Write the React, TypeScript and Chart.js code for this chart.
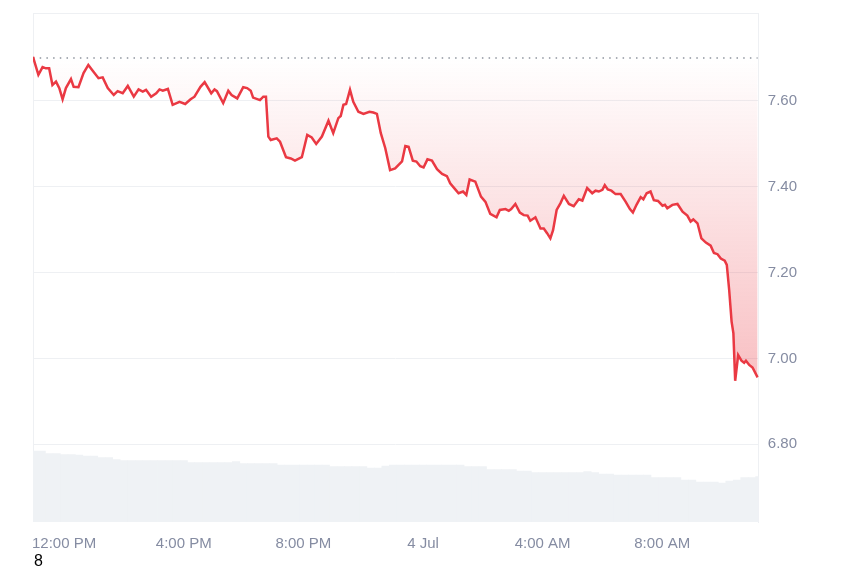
import { useEffect, useRef } from 'react';
import { Chart, registerables } from 'chart.js';

Chart.register(...registerables);

// Time in hours since 3 Jul 00:00
const TIMES = [
  10.96, 11.14, 11.28, 11.39, 11.50, 11.61, 11.73, 11.84, 11.95, 12.06,
  12.23, 12.32, 12.48, 12.65, 12.81, 12.95, 13.15, 13.29, 13.46, 13.66,
  13.79, 13.96, 14.13, 14.33, 14.49, 14.63, 14.74, 14.91, 15.08, 15.19,
  15.30, 15.47, 15.63, 15.86, 16.05, 16.23, 16.36, 16.56, 16.70, 16.92,
  17.03, 17.11, 17.32, 17.49, 17.60, 17.79, 17.99, 18.12, 18.24, 18.32,
  18.55, 18.66, 18.75, 18.83, 18.91, 19.11, 19.22, 19.42, 19.58, 19.72,
  19.95, 20.13, 20.28, 20.43, 20.62, 20.84, 21.00, 21.17, 21.25, 21.34,
  21.43, 21.56, 21.67, 21.84, 22.01, 22.21, 22.34, 22.46, 22.59, 22.74,
  22.90, 23.07, 23.30, 23.41, 23.52, 23.66, 23.78, 23.91, 24.02, 24.15,
  24.30, 24.47, 24.64, 24.80, 24.91, 25.08, 25.19, 25.34, 25.45, 25.56,
  25.75, 25.94, 26.09, 26.25, 26.46, 26.57, 26.76, 26.87, 26.95, 27.09,
  27.24, 27.37, 27.50, 27.59, 27.76, 27.93, 28.04, 28.15, 28.26, 28.35,
  28.47, 28.60, 28.71, 28.88, 29.04, 29.21, 29.33, 29.49, 29.66, 29.77,
  29.88, 30.00, 30.08, 30.18, 30.30, 30.44, 30.61, 30.78, 30.92, 31.02,
  31.14, 31.28, 31.37, 31.48, 31.61, 31.72, 31.86, 32.01, 32.09, 32.17,
  32.34, 32.51, 32.68, 32.84, 32.95, 33.04, 33.18, 33.31, 33.46, 33.62,
  33.73, 33.85, 33.96, 34.09, 34.16, 34.24, 34.32, 34.38, 34.44, 34.54,
  34.65, 34.74, 34.80, 34.91, 35.02, 35.19,
];

const PRICES = [
  7.703, 7.661, 7.679, 7.676, 7.676, 7.637, 7.645, 7.630, 7.604, 7.630,
  7.651, 7.633, 7.632, 7.665, 7.684, 7.671, 7.653, 7.655, 7.630, 7.614,
  7.623, 7.618, 7.635, 7.610, 7.627, 7.622, 7.626, 7.610, 7.618, 7.627,
  7.624, 7.628, 7.591, 7.598, 7.593, 7.604, 7.610, 7.633, 7.644, 7.618,
  7.627, 7.623, 7.595, 7.624, 7.614, 7.606, 7.632, 7.630, 7.624, 7.608,
  7.602, 7.610, 7.610, 7.517, 7.509, 7.513, 7.505, 7.469, 7.466, 7.461,
  7.469, 7.521, 7.515, 7.500, 7.517, 7.554, 7.525, 7.560, 7.565, 7.591,
  7.593, 7.626, 7.598, 7.575, 7.570, 7.575, 7.573, 7.570, 7.525, 7.490,
  7.439, 7.443, 7.459, 7.495, 7.493, 7.461, 7.459, 7.448, 7.445, 7.464,
  7.461, 7.441, 7.430, 7.425, 7.408, 7.394, 7.385, 7.389, 7.381, 7.417,
  7.412, 7.377, 7.365, 7.337, 7.329, 7.346, 7.348, 7.344, 7.348, 7.360,
  7.340, 7.334, 7.333, 7.321, 7.329, 7.303, 7.303, 7.292, 7.280, 7.299,
  7.346, 7.362, 7.379, 7.360, 7.355, 7.371, 7.368, 7.397, 7.385, 7.391,
  7.389, 7.393, 7.404, 7.394, 7.391, 7.383, 7.383, 7.365, 7.348, 7.340,
  7.358, 7.376, 7.371, 7.385, 7.389, 7.369, 7.367, 7.356, 7.358, 7.350,
  7.358, 7.360, 7.342, 7.333, 7.319, 7.324, 7.315, 7.280, 7.270, 7.263,
  7.246, 7.243, 7.233, 7.228, 7.218, 7.159, 7.086, 7.059, 6.948, 7.008,
  6.995, 6.990, 6.995, 6.985, 6.979, 6.956,
];

const BASELINE = 7.70;

// Volume bars: one bar per 15 minutes starting at 11:00
const VOLUME_START = 11.0;
const VOLUME_STEP = 0.25;
const VOLUMES = [
  142, 142, 137, 137, 135, 135, 134, 132, 132, 129,
  129, 125, 123, 123, 123, 123, 123, 123, 123, 123,
  123, 119, 119, 119, 119, 119, 119, 121, 117, 117,
  117, 117, 117, 114, 114, 114, 114, 114, 114, 114,
  111, 111, 111, 111, 111, 108, 108, 112, 114, 114,
  114, 114, 114, 114, 114, 114, 114, 114, 111, 111,
  111, 105, 105, 105, 105, 102, 102, 99, 99, 99,
  99, 99, 99, 99, 101, 99, 96, 96, 94, 94,
  94, 94, 94, 89, 89, 89, 89, 84, 84, 80,
  80, 80, 78, 82, 84, 89, 89, 91,
];
const VOLUME_AXIS_MAX = 1018;

const Y_MIN = 6.619;
const Y_MAX = 7.805;
const Y_TICKS = [6.8, 7.0, 7.2, 7.4, 7.6];
const X_TICKS = [12, 16, 20, 24, 28, 32];
const X_TICK_LABELS = ['12:00 PM', '4:00 PM', '8:00 PM', '4 Jul', '4:00 AM', '8:00 AM'];
const X_MAX = 35.23;

const GRID = '#eef0f3';
const LABEL = '#858ca2';
const RED = '#ea3943';
const FONT = "'Liberation Sans', Arial, sans-serif";

const framePlugin = {
  id: 'frame',
  beforeDatasetsDraw(chart: any) {
    const { ctx, chartArea } = chart;
    ctx.save();
    ctx.strokeStyle = GRID;
    ctx.lineWidth = 1;
    ctx.beginPath();
    ctx.moveTo(chartArea.left + 0.5, chartArea.top);
    ctx.lineTo(chartArea.left + 0.5, chartArea.bottom);
    ctx.moveTo(chartArea.left, chartArea.top + 0.5);
    ctx.lineTo(chartArea.right, chartArea.top + 0.5);
    ctx.stroke();
    ctx.restore();
  },
};

export default function App() {
  const ref = useRef<HTMLCanvasElement | null>(null);

  useEffect(() => {
    if (!ref.current) return;
    const minPrice = Math.min(...PRICES);
    const chart = new Chart(ref.current, {
      type: 'line',
      data: {
        datasets: [
          {
            type: 'line',
            label: 'Price',
            data: TIMES.map((t, i) => ({ x: t, y: PRICES[i] })),
            borderColor: RED,
            borderWidth: 2.5,
            pointRadius: 0,
            tension: 0,
            yAxisID: 'y',
            order: 1,
            fill: { value: BASELINE },
            backgroundColor: (c: any) => {
              const ch = c.chart;
              const { chartArea, scales } = ch;
              if (!chartArea || !scales.y) return 'rgba(0,0,0,0)';
              const top = scales.y.getPixelForValue(BASELINE);
              const bottom = scales.y.getPixelForValue(minPrice);
              const g = ch.ctx.createLinearGradient(0, top, 0, bottom);
              g.addColorStop(0, 'rgba(234,57,67,0)');
              g.addColorStop(1, 'rgba(234,57,67,0.32)');
              return g;
            },
          } as any,
          {
            type: 'line',
            label: 'Open',
            data: [
              { x: TIMES[0], y: BASELINE },
              { x: TIMES[TIMES.length - 1], y: BASELINE },
            ],
            borderColor: '#8e949e',
            borderWidth: 1.5,
            borderDash: [1.5, 5.2],
            pointRadius: 0,
            fill: false,
            yAxisID: 'y',
            order: 2,
          } as any,
          {
            type: 'bar',
            label: 'Volume',
            data: VOLUMES.map((v, i) => ({ x: VOLUME_START + i * VOLUME_STEP, y: v })),
            backgroundColor: '#eff2f5',
            borderWidth: 0,
            barPercentage: 1,
            categoryPercentage: 1,
            yAxisID: 'yVol',
            order: 3,
          } as any,
        ],
      },
      options: {
        animation: false,
        responsive: false,
        devicePixelRatio: 1,
        layout: { padding: { left: 33, top: 13, right: 44, bottom: 0 } },
        plugins: {
          legend: { display: false },
          tooltip: { enabled: false },
        },
        scales: {
          x: {
            type: 'linear',
            min: TIMES[0],
            max: X_MAX,
            offset: false,
            afterBuildTicks: (axis: any) => {
              axis.ticks = X_TICKS.map((v) => ({ value: v }));
            },
            afterFit: (axis: any) => {
              axis.height = 45;
              axis.paddingLeft = 0;
              axis.paddingRight = 0;
            },
            ticks: {
              autoSkip: false,
              maxRotation: 0,
              padding: 13,
              color: LABEL,
              font: { family: FONT, size: 15 },
              callback: (v: any) => {
                const idx = X_TICKS.indexOf(Number(v));
                return idx >= 0 ? X_TICK_LABELS[idx] : '';
              },
            },
            grid: { display: false, drawTicks: false },
            border: { display: false },
          },
          y: {
            type: 'linear',
            position: 'right',
            min: Y_MIN,
            max: Y_MAX,
            afterBuildTicks: (axis: any) => {
              axis.ticks = Y_TICKS.map((v) => ({ value: v }));
            },
            afterFit: (axis: any) => {
              axis.paddingTop = 0;
              axis.paddingBottom = 0;
            },
            ticks: {
              padding: 9,
              color: LABEL,
              font: { family: FONT, size: 15 },
              callback: (v: any) => Number(v).toFixed(2),
            },
            grid: { color: GRID, drawTicks: false, lineWidth: 1 },
            border: { display: true, color: GRID },
          },
          yVol: {
            type: 'linear',
            display: false,
            min: 0,
            max: VOLUME_AXIS_MAX,
          },
        },
      } as any,
      plugins: [framePlugin],
    });
    return () => chart.destroy();
  }, []);

  return (
    <div style={{ position: 'absolute', left: 0, top: 0, width: 850, height: 567, background: '#fff' }}>
      <canvas ref={ref} width={850} height={567} style={{ display: 'block' }} />
      <div
        style={{
          position: 'absolute',
          left: 34,
          top: 552,
          fontFamily: FONT,
          fontSize: 16,
          color: '#000',
          lineHeight: 'normal',
        }}
      >
        8
      </div>
    </div>
  );
}
